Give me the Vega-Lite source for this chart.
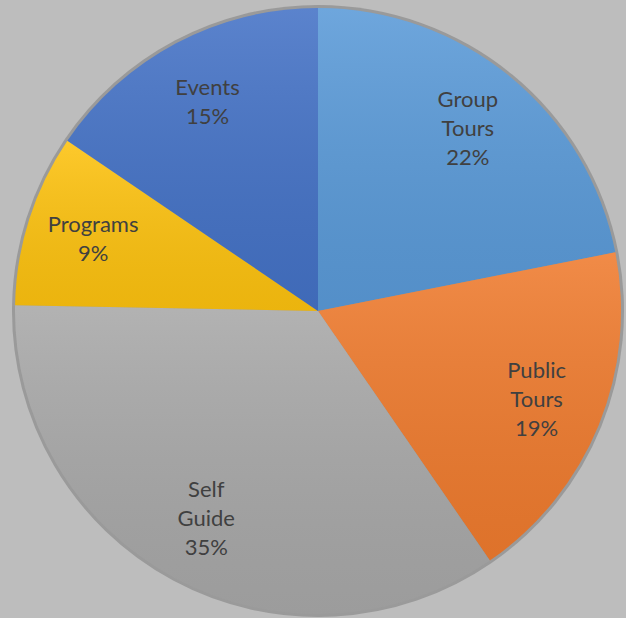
{
  "$schema": "https://vega.github.io/schema/vega-lite/v6.json",
  "width": 616,
  "height": 614,
  "autosize": {"type": "none"},
  "padding": {"left": 10, "top": 4, "right": 0, "bottom": 0},
  "background": "#bdbdbd",
  "config": {"view": {"stroke": null}},
  "data": {
    "values": [
      {"o": 1, "cat": "Group Tours", "value": 21.9, "label": "Group\nTours\n22%"},
      {"o": 2, "cat": "Public Tours", "value": 18.5, "label": "Public\nTours\n19%"},
      {"o": 3, "cat": "Self Guide", "value": 34.9, "label": "Self\nGuide\n35%"},
      {"o": 4, "cat": "Programs", "value": 9.2, "label": "Programs\n9%"},
      {"o": 5, "cat": "Events", "value": 15.5, "label": "Events\n15%"}
    ]
  },
  "encoding": {
    "theta": {"field": "value", "type": "quantitative", "stack": true},
    "order": {"field": "o", "type": "quantitative"}
  },
  "layer": [
    {
      "mark": {"type": "arc", "outerRadius": 306, "fill": "#6e6e6e", "opacity": 0.45}
    },
    {
      "mark": {"type": "arc", "outerRadius": 303},
      "encoding": {
        "color": {
          "field": "cat",
          "type": "nominal",
          "scale": {
            "domain": ["Group Tours", "Public Tours", "Self Guide", "Programs", "Events"],
            "range": ["#5a9ad8", "#ef7b2e", "#a8a8a8", "#fdc20f", "#4472c6"]
          },
          "legend": null
        }
      }
    },
    {
      "mark": {
        "type": "arc",
        "outerRadius": 303,
        "fill": {
          "gradient": "linear",
          "x1": 0, "y1": 0, "x2": 0, "y2": 1,
          "stops": [
            {"offset": 0, "color": "rgba(255,255,255,0.12)"},
            {"offset": 1, "color": "rgba(0,0,0,0.07)"}
          ]
        }
      }
    },
    {
      "mark": {
        "type": "text",
        "radius": 236,
        "lineBreak": "\n",
        "font": "Lato",
        "fontSize": 22,
        "lineHeight": 29,
        "color": "#404040",
        "align": "center",
        "baseline": "middle",
        "dy": {"expr": "-(length(split(datum.label, '\\n')) - 1) * 14.5"}
      },
      "encoding": {"text": {"field": "label", "type": "nominal"}}
    }
  ]
}
